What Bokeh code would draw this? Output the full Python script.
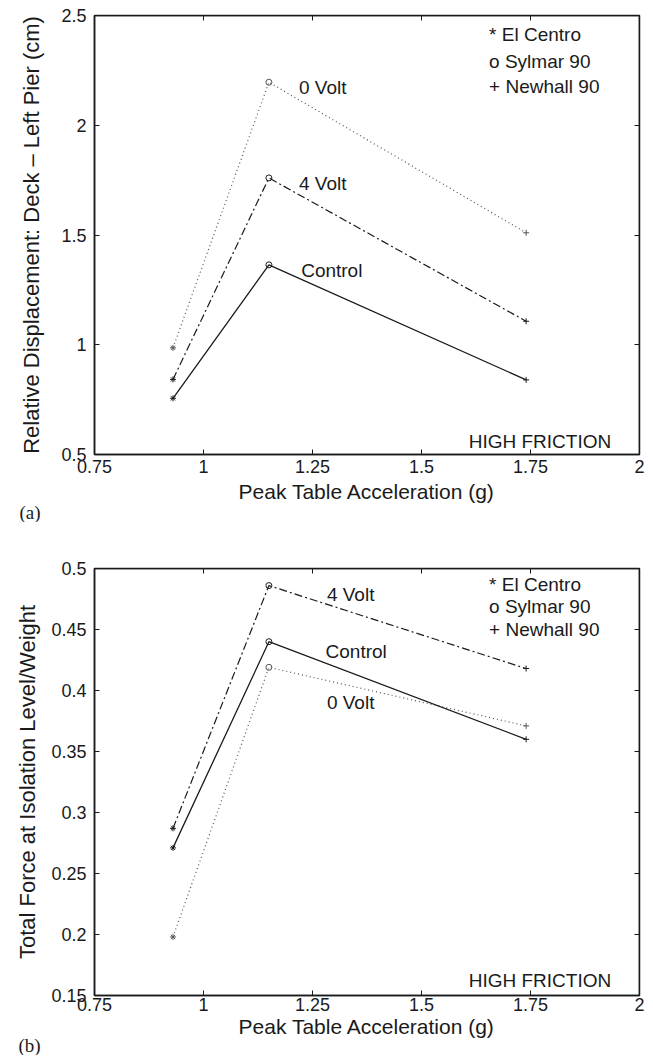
from bokeh.plotting import figure
from bokeh.layouts import column
from bokeh.models import Range1d, LinearAxis, FixedTicker, Label, ColumnDataSource, Title
from bokeh.core.properties import field
from bokeh.embed import file_html
from bokeh.resources import INLINE

# ---------------- data ----------------
accel = [0.93, 1.15, 1.74]                 # Peak table acceleration (g)
record_markers = ["asterisk", "circle", "cross"]   # El Centro, Sylmar 90, Newhall 90

disp_0volt = [0.986, 2.196, 1.51]
disp_4volt = [0.842, 1.760, 1.107]
disp_control = [0.756, 1.364, 0.840]

force_0volt = [0.198, 0.419, 0.371]
force_4volt = [0.287, 0.486, 0.418]
force_control = [0.271, 0.440, 0.360]

x_ticks = [0.75, 1.0, 1.25, 1.5, 1.75, 2.0]
x_tick_labels = ["0.75", "1", "1.25", "1.5", "1.75", "2"]
top_y_ticks = [0.5, 1.0, 1.5, 2.0, 2.5]
top_y_tick_labels = ["0.5", "1", "1.5", "2", "2.5"]
bot_y_ticks = [0.15, 0.2, 0.25, 0.3, 0.35, 0.4, 0.45, 0.5]
bot_y_tick_labels = ["0.15", "0.2", "0.25", "0.3", "0.35", "0.4", "0.45", "0.5"]

x_title = "Peak Table Acceleration (g)"
legend_lines = ["* El Centro", "o Sylmar 90", "+ Newhall 90"]

INK = "#1a1a1a"
FONT = "Liberation Sans"
TXT = "19px"


def style_axis(ax, ticks, labels, show_labels=True):
    ax.ticker = FixedTicker(ticks=ticks)
    ax.axis_line_color = INK
    ax.axis_line_width = 1.5
    ax.major_tick_line_color = INK
    ax.major_tick_line_width = 1
    ax.major_tick_in = 5
    ax.major_tick_out = 0
    ax.minor_tick_line_color = None
    ax.major_label_text_font = FONT
    ax.axis_label_text_font = FONT
    ax.axis_label_text_font_style = "normal"
    ax.axis_label_text_color = INK
    if show_labels:
        ax.major_label_overrides = {t: l for t, l in zip(ticks, labels)}
        ax.major_label_text_font_size = "18px"
        ax.major_label_text_color = INK
    else:
        ax.major_label_overrides = {t: "" for t in ticks}
        ax.major_label_text_font_size = "1px"
        ax.major_label_text_color = None
        ax.major_label_standoff = 0


def make_panel(xr, yr, yticks, ylabels, ylabel, series, height, borders,
               x_std, y_std, yl_std, tag, xt_standoff, tag_standoff):
    top, bottom, left, right = borders
    p = figure(width=653, height=height, output_backend="svg", toolbar_location=None,
               x_range=Range1d(*xr), y_range=Range1d(*yr),
               min_border_top=top, min_border_bottom=bottom,
               min_border_left=left, min_border_right=right,
               background_fill_color="white", border_fill_color="white")
    p.grid.visible = False
    p.outline_line_color = INK
    p.outline_line_width = 1.5

    style_axis(p.xaxis[0], x_ticks, x_tick_labels)
    style_axis(p.yaxis[0], yticks, ylabels)
    p.yaxis[0].axis_label = ylabel
    p.yaxis[0].axis_label_text_font_size = "22px"
    p.xaxis[0].major_label_standoff = x_std
    p.yaxis[0].major_label_standoff = y_std
    p.yaxis[0].axis_label_standoff = yl_std

    # mirrored inward ticks on the top and right edges of the box
    ax_top = LinearAxis(fixed_location=yr[1])
    style_axis(ax_top, x_ticks, x_tick_labels, show_labels=False)
    p.add_layout(ax_top, "above")
    ax_right = LinearAxis(fixed_location=xr[1])
    style_axis(ax_right, yticks, ylabels, show_labels=False)
    p.add_layout(ax_right, "right")

    # x title and panel tag "(a)" / "(b)" share one line under the tick labels
    p.add_layout(Title(text=x_title, text_font=FONT, text_font_size="21px",
                       text_font_style="normal", text_color=INK, align="center",
                       vertical_align="bottom", standoff=xt_standoff), "below")
    p.add_layout(Title(text=tag, text_font="Liberation Serif", text_font_size="19px",
                       text_font_style="normal", text_color=INK, align="left",
                       offset=18 - left, vertical_align="bottom",
                       standoff=tag_standoff), "below")

    for vals, color, dash, width in series:
        p.line(accel, vals, line_color=color, line_dash=dash, line_width=width)
        src = ColumnDataSource(dict(x=accel, y=vals, m=record_markers))
        p.scatter("x", "y", source=src, marker=field("m"), size=6,
                  fill_color=None, line_color=color, line_width=1)
    return p


def add_text(p, x, y, text, align="left", size=TXT, font=FONT):
    p.add_layout(Label(x=x, y=y, text=text, text_font=font, text_font_size=size,
                       text_color=INK, text_align=align, text_baseline="middle"))


# ---------------- panel (a) ----------------
p1 = make_panel((0.75, 2.0), (0.5, 2.5), top_y_ticks, top_y_tick_labels,
                "Relative Displacement: Deck \u2013 Left Pier (cm)",
                [(disp_0volt, "#555555", "1 3", 1.2),
                 (disp_4volt, INK, "8 3 2 3", 1.2),
                 (disp_control, INK, "solid", 1.3)],
                522, (15, 68, 93, 4), 5, 8, 14, "(a)", 4, -10)
add_text(p1, 1.219, 2.17, "0 Volt")
add_text(p1, 1.219, 1.733, "4 Volt")
add_text(p1, 1.224, 1.338, "Control")
for t, yv in zip(legend_lines, [2.413, 2.29, 2.177]):
    add_text(p1, 1.655, yv, t)
add_text(p1, 1.935, 0.559, "HIGH FRICTION", align="right")

# ---------------- panel (b) ----------------
p2 = make_panel((0.75, 2.0), (0.15, 0.5), bot_y_ticks, bot_y_tick_labels,
                "Total Force at Isolation Level/Weight",
                [(force_0volt, "#555555", "1 3", 1.2),
                 (force_4volt, INK, "8 3 2 3", 1.2),
                 (force_control, INK, "solid", 1.3)],
                533, (46, 60, 94, 14), 2, 8, 8, "(b)", -1, -10)
add_text(p2, 1.283, 0.479, "4 Volt")
add_text(p2, 1.28, 0.432, "Control")
add_text(p2, 1.283, 0.390, "0 Volt")
for t, yv in zip(legend_lines, [0.487, 0.469, 0.45]):
    add_text(p2, 1.655, yv, t)
add_text(p2, 1.935, 0.162, "HIGH FRICTION", align="right")

layout = column(p1, p2, spacing=0)
open("out.html", "w").write(file_html(layout, INLINE))
